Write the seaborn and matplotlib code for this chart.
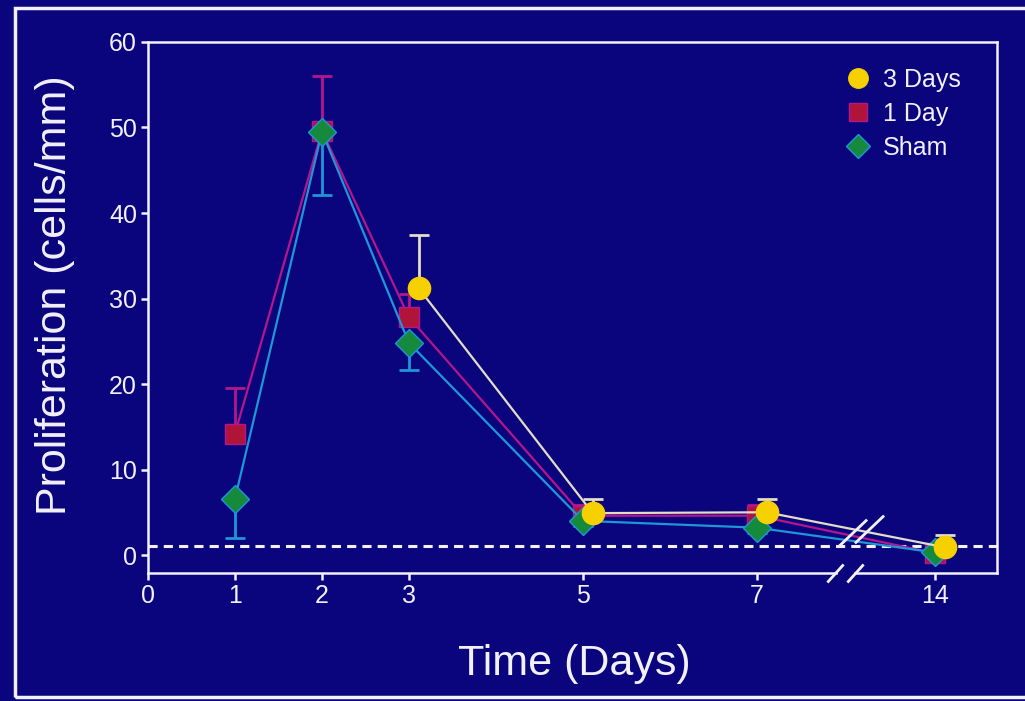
import numpy as np
import pandas as pd
import matplotlib.pyplot as plt
import matplotlib.transforms as mtransforms
from matplotlib.lines import Line2D
from matplotlib.patches import Rectangle
import seaborn as sns

# values (cells/mm)
days_1day = [1, 2, 3, 5, 7, 14]
mean_1day = [14.2, 49.6, 27.8, 4.6, 4.6, 0.2]
err_1day = [5.3, 6.4, 2.7, 1.3, 1.3, 0.9]       # upper bars only

days_sham = [1, 2, 3, 5, 7, 14]
mean_sham = [6.6, 49.5, 24.8, 4.0, 3.2, 0.3]
err_sham = [4.6, 7.4, 3.2, 0.6, 0.6, 0.4]       # lower bars only

days_3days = [3, 5, 7, 14]
mean_3days = [31.2, 4.9, 5.0, 0.9]
err_3days = [6.2, 1.7, 1.6, 1.4]                # upper bars only

xticks = [0, 1, 2, 3, 5, 7, 14]
yticks = [0, 10, 20, 30, 40, 50, 60]
baseline = 1.0

bg = '#0a057c'
fg = '#f2f0fa'

sns.set_theme(style='white', rc={'axes.facecolor': bg, 'figure.facecolor': bg})
plt.rcParams['font.family'] = ['Liberation Sans', 'DejaVu Sans']

# broken x axis: days after 7 are squeezed
k = 0.293


def fwd(x):
    x = np.asarray(x, dtype=float)
    return np.where(x <= 7, x, 7 + (x - 7) * k)


def inv(x):
    x = np.asarray(x, dtype=float)
    return np.where(x <= 7, x, 7 + (x - 7) / k)


fig = plt.figure(figsize=(10.25, 7.01), dpi=100, facecolor=bg)
ax = fig.add_axes([0.1444, 0.1826, 0.8283, 0.7575])
ax.set_facecolor(bg)

shift = mtransforms.ScaledTranslation(7 / 72, 0, fig.dpi_scale_trans)

series = [
    # label, days, mean, err, side, line, marker, face, edge, size, offset
    ('1 Day', days_1day, mean_1day, err_1day, 'up', '#b4168c', 's', '#b01438', '#b4168c', 15, False),
    ('Sham', days_sham, mean_sham, err_sham, 'down', '#1e96d8', 'D', '#168a3c', '#1e96d8', 14.5, False),
    ('3 Days', days_3days, mean_3days, err_3days, 'up', '#e2ddc8', 'o', '#f7d000', '#f7d000', 16, True),
]

for i, (lab, d, m, e, side, lc, mk, fc, ec, ms, off) in enumerate(series):
    df = pd.DataFrame({'day': d, 'value': m})
    tr = ax.transData + shift if off else ax.transData
    z = 3 + i
    e = np.array(e)
    zero = np.zeros_like(e)
    yerr = [zero, e] if side == 'up' else [e, zero]
    ax.errorbar(d, m, yerr=yerr, fmt='none', ecolor=lc, elinewidth=2, capsize=7,
                capthick=2, transform=tr, zorder=z - 0.5)
    sns.lineplot(data=df, x='day', y='value', ax=ax, color=lc, linewidth=1.6,
                 marker=mk, markersize=ms, markerfacecolor=fc, markeredgecolor=ec,
                 markeredgewidth=1, errorbar=None, transform=tr, zorder=z)

ax.axhline(baseline, color=fg, lw=2.2, ls=(0, (3, 2)), zorder=2)

ax.set_xscale('function', functions=(fwd, inv))
ax.set_xlim(0, float(inv(9.76)))
ax.set_ylim(-2.1, 60)
ax.set_xticks(xticks)
ax.set_xticklabels([str(t) for t in xticks])
ax.set_yticks(yticks)

for sp in ax.spines.values():
    sp.set_color(fg)
    sp.set_linewidth(1.8)
ax.tick_params(axis='both', colors=fg, labelsize=18, length=5, width=1.8,
               direction='out', pad=3, left=True, bottom=True)

ax.set_xlabel('Time (Days)', fontsize=31, color=fg)
ax.set_ylabel('Proliferation (cells/mm)', fontsize=31, color=fg)
ax.xaxis.set_label_coords(0.502, -0.134)
ax.yaxis.set_label_coords(-0.086, 0.524)

# break marks on the data lines and on the x axis
slash_data = [(-1, -0.95), (1, 0.95)]
ax.plot(inv([8.09, 8.29]), [2.6, 3.0], ls='none', marker=slash_data, markersize=21,
        markeredgecolor=fg, markeredgewidth=2, zorder=8)
blend = mtransforms.blended_transform_factory(ax.transData, ax.transAxes)
ax.add_patch(Rectangle((float(inv(7.93)), -0.01), float(inv(8.1)) - float(inv(7.93)), 0.02,
                       transform=blend, color=bg, clip_on=False, zorder=9))
ax.plot(inv([7.9, 8.13]), [0, 0], ls='none', marker=[(-0.9, -1), (0.9, 1)], markersize=13,
        markeredgecolor=fg, markeredgewidth=2, transform=blend, clip_on=False, zorder=10)

handles = [
    Line2D([], [], ls='none', marker='o', markersize=14, markerfacecolor='#f7d000', markeredgecolor='#f7d000'),
    Line2D([], [], ls='none', marker='s', markersize=13, markerfacecolor='#b01438', markeredgecolor='#b4168c'),
    Line2D([], [], ls='none', marker='D', markersize=12, markerfacecolor='#168a3c', markeredgecolor='#1e96d8'),
]
ax.legend(handles, ['3 Days', '1 Day', 'Sham'], loc='upper left', bbox_to_anchor=(0.81, 0.97),
          frameon=False, fontsize=18, labelcolor=fg, handlelength=1.0, handletextpad=0.5,
          labelspacing=0.4, borderaxespad=0)

# slide frame
fig.patches.append(Rectangle((15 / 1025, 4 / 701), 1.1, 1 - 12 / 701, transform=fig.transFigure,
                             fill=False, edgecolor=fg, linewidth=2.5, zorder=0))

fig.savefig('out.png', dpi=100, facecolor=bg)
